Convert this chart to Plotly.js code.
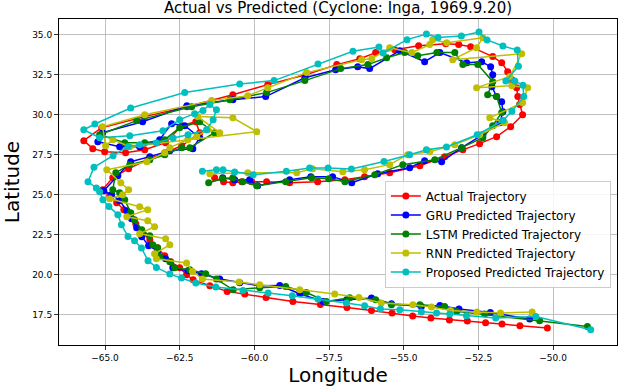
<!DOCTYPE html>
<html>
<head>
<meta charset="utf-8">
<script src="https://cdn.plot.ly/plotly-3.0.1.min.js"></script>
<style>html,body{margin:0;padding:0;background:#fff;}#chart{width:621px;height:389px;}</style>
</head>
<body>
<div id="chart"></div>
<script>
// Actual trajectory
var actualLon = [-50.19,-51.11,-51.71,-52.26,-52.87,-53.47,-54.09,-54.70,-55.39,-56.08,-56.90,-57.79,-58.71,-59.61,-60.32,-60.91,-61.49,-62.05,
  -62.27,-62.50,-62.80,-63.00,-63.24,-63.50,-63.74,-63.97,-64.14,-64.37,-64.61,-64.84,-65.08,
  -64.74,-64.21,-63.57,-63.00,-62.43,-61.83,-61.96,-62.43,-62.97,-63.67,-64.31,-65.01,-65.41,-65.71,
  -65.11,-63.67,-62.26,-60.72,-59.55,-58.28,-57.24,-56.47,-55.94,-55.30,-54.50,-53.59,-53.16,-52.76,-52.02,-51.72,-51.52,-51.38,-51.22,-51.18,-51.12,-51.02,
  -51.42,-51.89,-52.46,-53.02,-53.63,-54.46,-55.47,-56.31,-56.97,-57.88,-58.82,-59.59,-60.09,-60.42,-60.72,-61.03,-61.33];
var actualLat = [16.67,16.81,16.92,17.00,17.11,17.17,17.29,17.42,17.61,17.77,17.96,18.14,18.33,18.58,18.79,18.96,19.31,19.69,
  20.00,20.44,20.81,21.19,21.69,22.19,22.63,23.19,23.63,24.06,24.50,24.94,25.31,
  26.06,26.63,27.19,27.63,28.06,28.88,29.56,29.31,28.25,27.81,27.63,27.69,27.88,28.38,
  29.19,29.88,30.50,31.25,31.88,32.50,33.13,33.50,33.88,34.06,34.31,34.44,34.38,34.25,33.63,33.25,32.69,32.19,31.69,31.13,30.63,30.00,
  29.25,28.63,28.19,27.81,27.38,26.81,26.38,26.13,25.94,25.81,25.75,25.81,25.81,25.81,25.75,25.81,26.06];

// GRU predicted trajectory
var gruLon = [-50.78,-52.10,-53.15,-53.79,-54.41,-55.41,-56.08,-56.91,-57.70,-58.48,-59.15,-59.82,-60.49,-61.16,-61.77,
  -62.23,-62.73,-62.97,-63.24,-63.54,-63.77,-63.94,-64.11,-64.27,-64.51,-64.78,-65.04,
  -64.57,-64.14,-63.50,-62.83,-62.06,-61.83,-62.33,-62.77,-63.17,-63.84,-64.51,-65.24,
  -65.08,-63.74,-62.26,-60.72,-59.62,-58.31,-57.28,-56.54,-56.14,-55.13,-54.30,-53.79,-52.89,-52.39,-52.09,-52.02,-52.05,-51.89,-51.72,-51.68,-51.78,
  -52.35,-53.06,-53.73,-54.30,-54.80,-55.87,-56.74,-57.38,-58.11,-58.82,-59.89,-60.16,-60.66,-61.06];
var gruLat = [17.23,17.64,17.86,18.08,18.02,18.19,18.54,18.44,18.33,18.81,19.33,19.31,19.50,19.73,20.06,
  20.25,20.44,21.00,21.50,21.81,22.38,22.94,23.50,24.00,24.63,25.00,25.25,
  26.19,27.06,27.38,27.75,27.88,28.56,29.31,29.44,28.44,28.00,28.00,28.31,
  28.88,29.56,30.56,30.94,31.13,32.31,32.81,33.00,32.88,34.00,33.31,33.88,33.25,33.31,33.00,32.50,31.75,31.13,30.81,30.19,29.50,
  28.75,27.94,27.06,27.13,26.69,26.31,25.75,26.13,26.13,25.94,25.56,25.94,25.94,26.06];

// LSTM predicted trajectory
var lstmLon = [-48.85,-50.45,-52.29,-53.23,-53.63,-54.46,-55.41,-55.94,-56.81,-57.59,-58.26,-58.95,-59.82,-60.71,-61.27,-61.63,
  -62.16,-62.67,-62.83,-63.17,-63.24,-63.40,-63.50,-63.77,-64.01,-64.14,-64.34,-64.51,-64.74,
  -64.64,-64.17,-63.50,-63.00,-62.43,-62.16,-61.33,-61.83,-62.50,-63.00,-63.67,-64.34,-65.18,
  -63.94,-62.10,-60.82,-59.59,-58.31,-57.11,-56.20,-55.57,-54.97,-54.53,-53.89,-53.29,-53.02,-52.52,-52.02,-52.19,-51.89,-51.72,-52.02,
  -52.35,-53.06,-53.96,-55.03,-55.97,-56.97,-57.51,-58.08,-58.95,-59.92,-60.39,-60.72,-61.06,-61.53];
var lstmLat = [16.77,17.13,17.54,17.71,18.02,18.13,18.13,18.44,18.56,18.33,18.89,19.27,19.19,19.06,19.73,20.06,
  20.31,20.44,20.81,21.13,21.69,21.88,22.44,22.81,23.44,23.88,24.69,25.13,25.31,
  26.38,26.88,27.19,27.50,27.94,27.94,28.88,29.56,29.19,28.44,28.25,28.25,28.75,
  29.63,30.50,30.94,31.38,32.13,32.88,33.13,33.56,33.88,33.69,33.88,33.88,33.13,33.13,32.06,31.25,31.13,30.13,29.31,
  28.56,27.94,27.19,26.88,26.25,25.81,26.00,26.06,25.81,25.56,25.81,26.06,26.00,25.75];

// RNN predicted trajectory
var rnnLon = [-50.70,-51.76,-52.55,-53.43,-54.07,-54.69,-55.75,-56.50,-57.31,-58.48,-59.82,-60.51,-61.74,-62.07,
  -62.27,-63.28,-63.34,-62.83,-62.97,-63.84,-63.34,-63.57,-64.27,-63.57,-63.84,-64.84,-64.41,-64.21,-64.47,-64.94,
  -63.60,-63.00,-62.83,-62.23,-61.93,-61.56,-61.16,-61.90,-60.72,-59.92,-64.17,-64.74,-64.98,
  -65.08,-63.67,-61.43,-60.22,-59.55,-58.25,-56.41,-56.07,-55.47,-54.73,-54.13,-54.03,-53.56,-52.35,-52.56,-53.36,-51.05,-51.45,-52.56,-51.38,-50.85,-51.02,-52.12,-51.62,
  -52.46,-53.29,-54.13,-54.87,-55.47,-56.31,-57.04,-58.05,-58.58,-60.22,-61.49];
var rnnLat = [17.67,17.61,17.67,17.77,17.98,18.13,18.23,18.58,18.79,19.06,19.38,19.54,19.73,20.21,
  20.73,21.00,21.31,21.88,22.25,22.56,23.00,23.38,23.63,24.06,24.25,24.75,25.00,25.31,25.75,26.56,
  27.06,27.63,27.94,28.44,28.63,29.06,28.88,29.88,29.81,28.94,28.00,28.44,28.06,
  29.25,30.00,30.88,31.19,31.69,32.63,33.44,33.50,34.19,33.88,34.38,34.69,34.50,34.81,34.19,33.44,33.81,32.38,31.69,31.81,31.69,30.75,29.81,29.50,
  28.75,28.13,27.69,27.50,26.88,26.56,26.44,26.63,26.38,26.38,26.31];

// Proposed predicted trajectory
var propLon = [-48.74,-50.58,-51.92,-52.90,-53.46,-53.90,-54.41,-55.13,-55.78,-56.31,-56.92,-57.87,-58.73,-59.54,-60.38,-61.29,-61.96,-62.44,
  -62.83,-63.28,-63.56,-63.78,-64.01,-64.23,-64.45,-64.57,-64.87,-65.07,-65.18,-65.29,-65.57,
  -65.37,-64.73,-64.23,-63.84,-63.28,-62.72,-62.22,-61.60,-61.38,-61.27,-61.49,-61.72,-62.00,-62.50,-63.06,-64.17,-65.18,-65.71,
  -65.34,-64.14,-62.33,-60.49,-59.34,-57.87,-56.70,-55.83,-55.69,-54.89,-54.24,-53.85,-53.07,-52.48,-52.21,-51.68,-51.20,-51.16,-51.58,-51.28,-51.01,-50.98,-51.38,-51.67,
  -52.54,-53.57,-54.24,-54.80,-55.66,-56.75,-57.53,-58.15,-58.93,-60.04,-60.66,-61.05,-61.27,-61.74];
var propLat = [16.56,17.39,17.29,17.44,17.54,17.61,17.67,17.81,17.86,18.06,18.23,18.48,18.69,18.86,19.02,19.23,19.48,19.79,
  20.04,20.46,20.88,21.67,22.13,22.39,23.13,23.75,24.27,24.69,25.19,25.42,25.81,
  26.71,27.44,28.02,28.13,28.23,28.54,28.75,29.06,29.69,30.31,30.63,30.27,30.06,29.69,29.00,28.69,28.56,29.06,
  29.42,30.42,31.39,31.92,32.13,33.17,33.96,34.23,33.86,34.69,35.04,34.83,34.92,35.16,34.67,34.29,34.04,33.03,32.11,32.11,31.84,31.13,30.22,29.64,
  28.75,27.98,27.81,27.50,27.08,26.61,26.67,26.67,26.46,26.25,26.42,26.56,26.56,26.46];

var seriesNames = ['Actual Trajectory','GRU Predicted Trajectory','LSTM Predicted Trajectory','RNN Predicted Trajectory','Proposed Predicted Trajectory'];
var seriesColors = ['#ff0000','#0000ff','#008000','#bfbf00','#00bfbf'];
var seriesLon = [actualLon, gruLon, lstmLon, rnnLon, propLon];
var seriesLat = [actualLat, gruLat, lstmLat, rnnLat, propLat];

var traces = seriesNames.map(function(n, i){
  return {
    x: seriesLon[i], y: seriesLat[i], name: n, type: 'scatter', mode: 'lines+markers',
    line: {color: seriesColors[i], width: 1.5},
    marker: {color: seriesColors[i], size: 7, symbol: 'circle'}
  };
});

var axisCommon = {
  showline: true, mirror: true, linecolor: '#000', linewidth: 1,
  showgrid: true, gridcolor: '#b0b0b0', gridwidth: 0.8,
  zeroline: false, ticks: 'outside', ticklen: 4, tickwidth: 1, tickcolor: '#333',
  tickfont: {family: 'DejaVu Sans', size: 9, color: '#000'},
  tickformat: '.1f', dtick: 2.5
};

var layout = {
  width: 621, height: 389,
  margin: {l: 59, r: 4, t: 19, b: 44},
  paper_bgcolor: '#fff', plot_bgcolor: '#fff',
  font: {family: 'DejaVu Sans', color: '#000'},
  title: {text: 'Actual vs Predicted (Cyclone: Inga, 1969.9.20)', font: {family: 'DejaVu Sans', size: 15, color: '#000'},
    x: 0.5, xref: 'paper', y: 0.979, yref: 'container', yanchor: 'middle'},
  xaxis: Object.assign({}, axisCommon, {range: [-66.54, -47.86], tick0: -65,
    title: {text: 'Longitude', font: {family: 'DejaVu Sans', size: 20, color: '#000'}, standoff: 5}}),
  yaxis: Object.assign({}, axisCommon, {range: [15.61, 35.98], tick0: 17.5,
    title: {text: 'Latitude', font: {family: 'DejaVu Sans', size: 20, color: '#000'}, standoff: 8}}),
  legend: {x: 0.989, y: 0.176, xanchor: 'right', yanchor: 'bottom', bgcolor: 'rgba(255,255,255,0.85)',
    bordercolor: '#cccccc', borderwidth: 1, font: {family: 'DejaVu Sans', size: 12, color: '#000'}, tracegroupgap: 0},
  showlegend: true
};

Plotly.newPlot('chart', traces, layout, {staticPlot: true, displayModeBar: false});
</script>
</body>
</html>
